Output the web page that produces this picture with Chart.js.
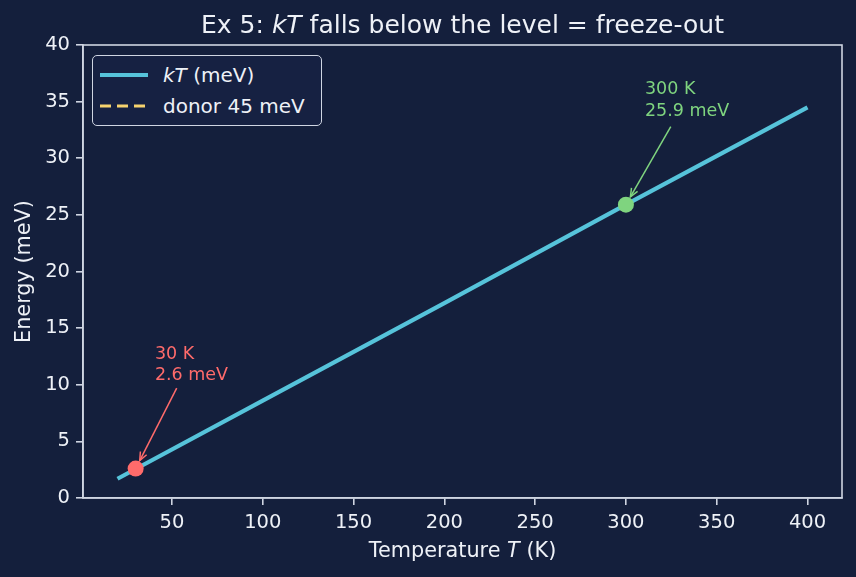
<!DOCTYPE html>
<html>
<head>
<meta charset="utf-8">
<script src="https://cdn.jsdelivr.net/npm/chart.js@4"></script>
<style>
  body { margin: 0; background: #141f3c; }
  #wrap { position: relative; width: 856px; height: 577px; }
  .legend { position: absolute; left: 92px; top: 55px; width: 228px; height: 69px;
    border: 1.5px solid #cfd5e2; border-radius: 5px; background: #162142; }
  .item { position: absolute; font-family: "DejaVu Sans", sans-serif; font-size: 20px;
    color: #eef1f7; line-height: 20px; white-space: nowrap; }
  .sw { position: absolute; }
</style>
</head>
<body>
<div id="wrap">
  <canvas id="chart" width="856" height="577"></canvas>
  <div class="legend"></div>
  <svg class="sw" style="left:100px;top:65px" width="50" height="20">
    <line x1="0" y1="10" x2="48" y2="10" stroke="#56c3da" stroke-width="4.2"/>
  </svg>
  <svg class="sw" style="left:100px;top:96px" width="50" height="20">
    <line x1="0" y1="10" x2="48" y2="10" stroke="#f6d36e" stroke-width="3.2" stroke-dasharray="11 6"/>
  </svg>
  <div class="item" style="left:163px;top:65px"><i>kT</i> (meV)</div>
  <div class="item" style="left:163px;top:96px">donor 45 meV</div>
</div>
<script>
// === Datos ===
const tempK = [20, 100, 200, 300, 400];
const kTmeV = [1.7, 8.6, 17.2, 25.9, 34.5];
const donorT = [20, 400];
const donorE = [45, 45];
const markT = [30, 300];
const markE = [2.6, 25.9];
const markColors = ["#ff6b6b", "#7fd47f"];
const markLabels = [["30 K", "2.6 meV"], ["300 K", "25.9 meV"]];
const xTicks = [50, 100, 150, 200, 250, 300, 350, 400];
const yTicks = [0, 5, 10, 15, 20, 25, 30, 35, 40];

const FONT = '"DejaVu Sans", sans-serif';
const TXT = "#eef1f7";
const SPINE = "#cfd5e2";

// texto con tramos en cursiva
function richText(ctx, parts, x, y, size) {
    let w = 0;
    parts.forEach(p => { ctx.font = (p[1] ? "italic " : "") + size + "px " + FONT; w += ctx.measureText(p[0]).width; });
    let cx = x - w / 2;
    ctx.textAlign = "left";
    parts.forEach(p => {
        ctx.font = (p[1] ? "italic " : "") + size + "px " + FONT;
        ctx.fillText(p[0], cx, y);
        cx += ctx.measureText(p[0]).width;
    });
}

function arrow(ctx, x1, y1, x2, y2, color) {
    // acortar hasta el borde del marcador
    const a = Math.atan2(y2 - y1, x2 - x1), s = 9;
    x2 -= s * Math.cos(a); y2 -= s * Math.sin(a);
    ctx.strokeStyle = color; ctx.lineWidth = 1.5;
    ctx.beginPath(); ctx.moveTo(x1, y1); ctx.lineTo(x2, y2); ctx.stroke();
    const h = 9;
    ctx.beginPath();
    ctx.moveTo(x2 - h * Math.cos(a - 0.4), y2 - h * Math.sin(a - 0.4));
    ctx.lineTo(x2, y2);
    ctx.lineTo(x2 - h * Math.cos(a + 0.4), y2 - h * Math.sin(a + 0.4));
    ctx.stroke();
}

// anotaciones: texto y origen de flecha en coordenadas de datos
const annotations = [
    { text: [40.6, 12.3], from: [52.6, 9.7] },
    { text: [310.5, 35.65], from: [324.7, 32.8] }
];

const decor = {
    id: "decor",
    beforeDraw(chart) {
        const ctx = chart.ctx;
        ctx.save();
        ctx.fillStyle = "#141f3c";
        ctx.fillRect(0, 0, chart.width, chart.height);
        ctx.restore();
    },
    afterDraw(chart) {
        const ctx = chart.ctx, a = chart.chartArea;
        const xs = chart.scales.x, ys = chart.scales.y;
        const cx = (a.left + a.right) / 2, cy = (a.top + a.bottom) / 2;
        ctx.save();
        ctx.strokeStyle = SPINE; ctx.lineWidth = 1.6;
        ctx.strokeRect(a.left, a.top, a.right - a.left, a.bottom - a.top);
        ctx.fillStyle = TXT; ctx.textBaseline = "alphabetic";
        richText(ctx, [["Ex 5: ", false], ["kT", true], [" falls below the level = freeze-out", false]], cx, 33, 25);
        richText(ctx, [["Temperature ", false], ["T", true], [" (K)", false]], cx, 557, 20.8);
        ctx.save();
        ctx.translate(30, cy); ctx.rotate(-Math.PI / 2);
        richText(ctx, [["Energy (meV)", false]], 0, 0, 20.8);
        ctx.restore();
        annotations.forEach((an, i) => {
            const c = markColors[i];
            const tx = xs.getPixelForValue(an.text[0]), ty = ys.getPixelForValue(an.text[1]);
            ctx.fillStyle = c; ctx.font = "17.5px " + FONT; ctx.textAlign = "left";
            ctx.fillText(markLabels[i][0], tx, ty);
            ctx.fillText(markLabels[i][1], tx, ty + 21.5);
            arrow(ctx, xs.getPixelForValue(an.from[0]), ys.getPixelForValue(an.from[1]),
                  xs.getPixelForValue(markT[i]), ys.getPixelForValue(markE[i]), c);
        });
        ctx.restore();
    }
};

const axisCommon = {
    grid: { display: true, drawOnChartArea: false, drawTicks: true, tickLength: 7, color: SPINE, lineWidth: 1.6 },
    border: { display: true, color: SPINE, width: 1.6 },
    ticks: { color: TXT, font: { family: FONT, size: 19.5 }, padding: 6 }
};

new Chart(document.getElementById("chart").getContext("2d"), {
    type: "scatter",
    data: {
        datasets: [
            { label: "kT (meV)", data: tempK.map((t, i) => ({ x: t, y: kTmeV[i] })), showLine: true,
              borderColor: "#56c3da", borderWidth: 4.2, pointRadius: 0, order: 2 },
            { label: "donor 45 meV", data: donorT.map((t, i) => ({ x: t, y: donorE[i] })), showLine: true,
              borderColor: "#f6d36e", borderDash: [11, 6], borderWidth: 3.2, pointRadius: 0, order: 3 },
            { label: "marks", data: markT.map((t, i) => ({ x: t, y: markE[i] })),
              backgroundColor: markColors, borderColor: markColors, pointRadius: 8, borderWidth: 0, order: 1 }
        ]
    },
    options: {
        responsive: false,
        animation: false,
        layout: { padding: { left: 0, right: 14, top: 45, bottom: 0 } },
        plugins: { legend: { display: false }, title: { display: false }, tooltip: { enabled: false } },
        scales: {
            x: { ...axisCommon, type: "linear", min: 1, max: 419,
                 afterBuildTicks: s => { s.ticks = xTicks.map(v => ({ value: v })); },
                 afterFit: s => { s.height = 79; } },
            y: { ...axisCommon, type: "linear", min: 0, max: 40,
                 afterBuildTicks: s => { s.ticks = yTicks.map(v => ({ value: v })); },
                 afterFit: s => { s.width = 83; } }
        }
    },
    plugins: [decor]
});
</script>
</body>
</html>
